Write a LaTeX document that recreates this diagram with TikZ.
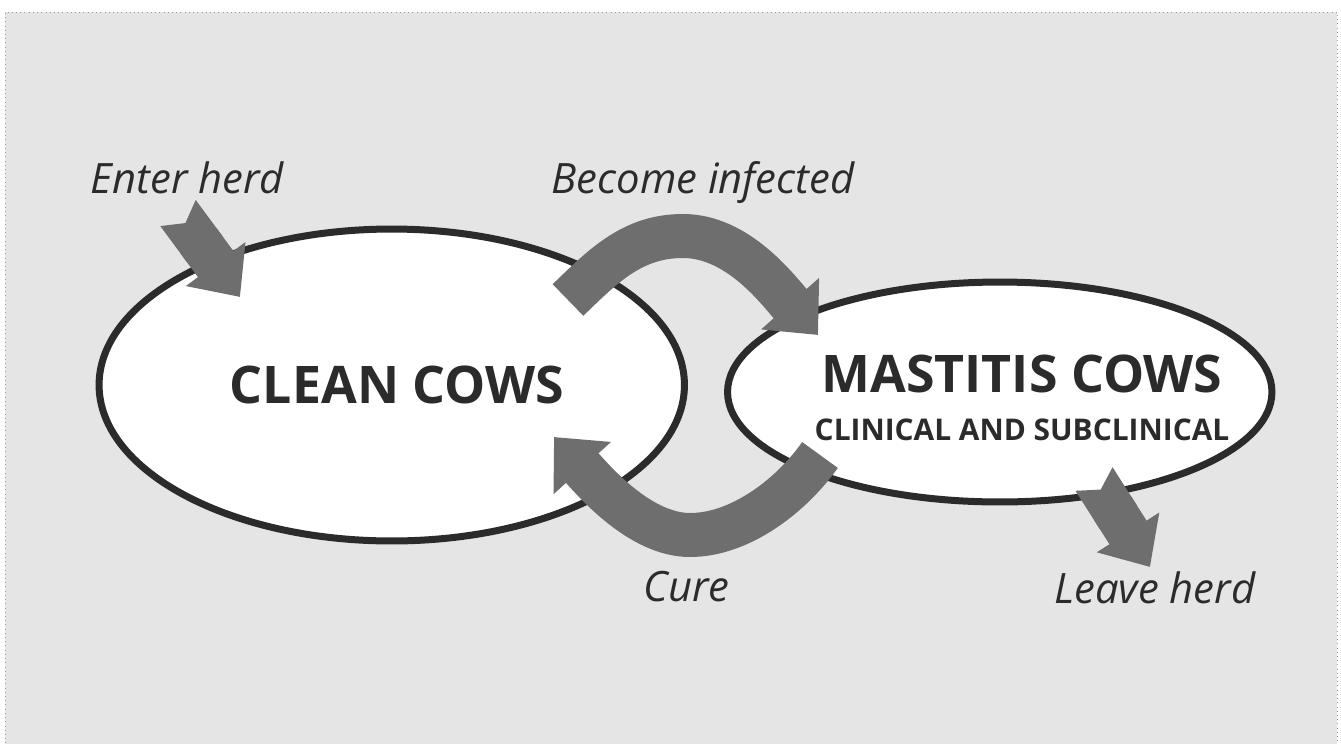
\documentclass[tikz,border=0pt]{standalone}
\usepackage{fontspec}
\setmainfont{Open Sans}
\usetikzlibrary{shapes.geometric,arrows.meta}
\definecolor{CowInk}{HTML}{2B2B2B}
\definecolor{CowGray}{HTML}{6E6E6E}
\definecolor{CowBack}{HTML}{E5E5E5}
\definecolor{CowFrame}{HTML}{9C9C9C}

\begin{document}
\begin{tikzpicture}[x=0.02cm,y=-0.02cm,
    herd/.style={ellipse,draw=CowInk,line width=0.14cm,fill=white,inner sep=0pt},
    bigtext/.style={font=\bfseries\fontsize{29.5}{32}\selectfont,text=CowInk,inner sep=0pt},
    subtext/.style={font=\bfseries\fontsize{17}{19}\selectfont,text=CowInk,inner sep=0pt},
    flowlabel/.style={font=\itshape\fontsize{23.8}{26}\selectfont,text=CowInk,inner sep=0pt,anchor=base},
    fatarrow/.style={draw=CowGray,line width=0.88cm,
      {Triangle Cap[reversed,length=0.25cm]}-{Triangle[length=0.82cm,width=1.43cm]}},
    bentarrow/.style={draw=CowGray,line width=0.88cm,-{Triangle[length=0.84cm,width=1.5cm]}}
  ]
    \useasboundingbox (0,0) rectangle (1341,744);
    \fill[CowBack] (5,12) rectangle (1337,744);
    \draw[CowFrame,dotted,line width=0.4pt] (5,760) |- (1337,12) -- (1337,760);

    \node[herd,minimum width=11.71cm,minimum height=6.24cm] (clean) at (391.75,385) {};
    \node[herd,minimum width=10.89cm,minimum height=4.4cm] (mastitis) at (999.75,392) {};

    \node[bigtext] (cleantxt) at (397,385) {CLEAN COWS};
    \node[bigtext] (mastitistxt) at (1022,374) {MASTITIS COWS};
    \node[subtext] (mastitissub) at (1022,430) {CLINICAL AND SUBCLINICAL};

    \coordinate (entertail) at (178,213);
    \coordinate (entertip) at (240,297);
    \coordinate (infecttail) at (568,300);
    \coordinate (infecttop) at (683,236);
    \coordinate (infecttip) at (818,335);
    \coordinate (curetail) at (820,455);
    \coordinate (curelow) at (690,535);
    \coordinate (curetip) at (554,437);
    \coordinate (leavetail) at (1094,479);
    \coordinate (leavetip) at (1150,567);

    \draw[fatarrow] (entertail) -- (entertip);
    \draw[bentarrow] (infecttail) .. controls (604,265) and (633,236) .. (infecttop)
      .. controls (738,236) and (778,290) .. (infecttip);
    \draw[bentarrow] (curetail) .. controls (791,496) and (740,535) .. (curelow)
      .. controls (640,535) and (594,481) .. (curetip);
    \draw[fatarrow] (leavetail) -- (leavetip);

    \node[flowlabel] (enterlbl) at (187.5,193) {Enter herd};
    \node[flowlabel] (infectlbl) at (703,193) {Become infected};
    \node[flowlabel] (curelbl) at (686.5,601) {Cure};
    \node[flowlabel] (leavelbl) at (1155,603) {Leave herd};
  \end{tikzpicture}
\end{document}
